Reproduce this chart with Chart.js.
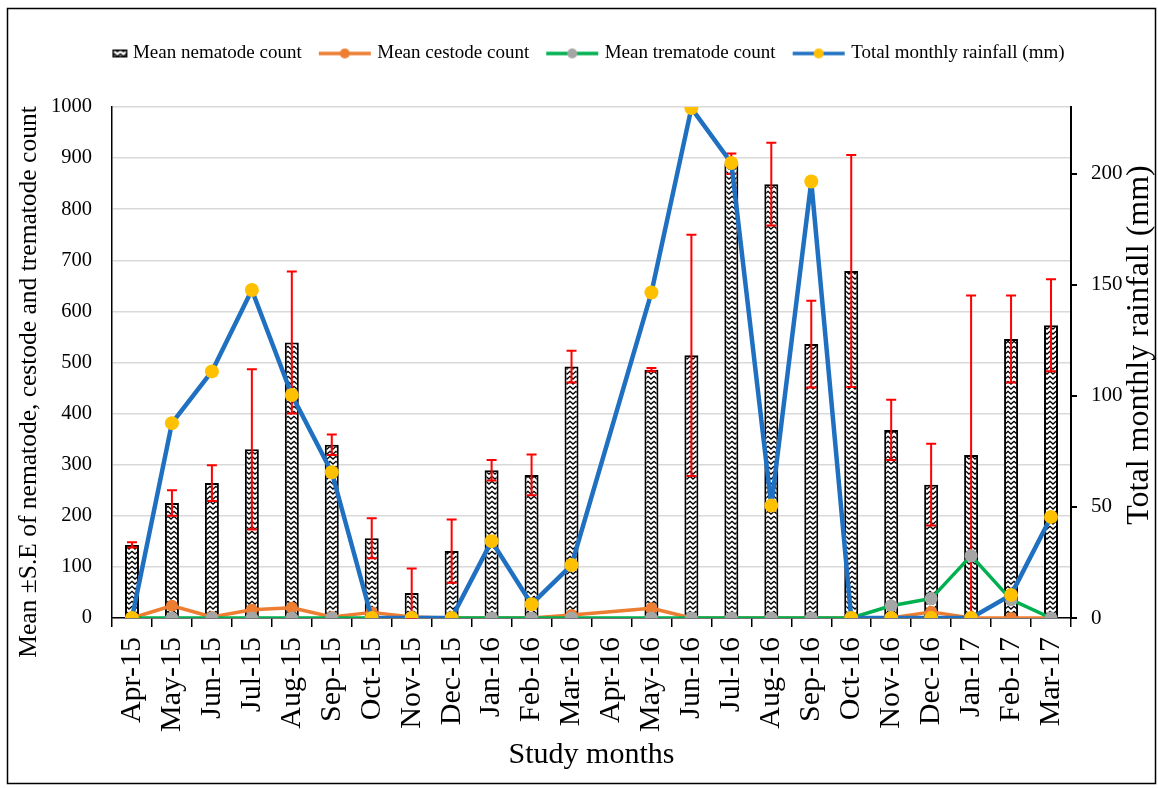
<!DOCTYPE html>
<html><head><meta charset="utf-8">
<script src="https://cdn.jsdelivr.net/npm/chart.js@4/dist/chart.umd.min.js"></script>
<style>html,body{margin:0;padding:0;background:#fff}#wrap{width:1158px;height:788px;position:relative}</style>
</head><body><div id="wrap"><canvas id="c" width="1158" height="788"></canvas></div>
<script>
const months = ['Apr-15','May-15','Jun-15','Jul-15','Aug-15','Sep-15','Oct-15','Nov-15','Dec-15','Jan-16','Feb-16','Mar-16','Apr-16','May-16','Jun-16','Jul-16','Aug-16','Sep-16','Oct-16','Nov-16','Dec-16','Jan-17','Feb-17','Mar-17'];
const nematode   = [143, 225, 264, 330, 539, 339, 156, 49, 131, 289, 280, 492, null, 486, 514, 889, 849, 536, 679, 368, 261, 319, 546, 573];
const nematodeSE = [5, 25, 35, 157, 139, 20, 39, 48, 62, 20, 40, 31, null, 3, 236, 20, 81, 85, 227, 59, 80, 312, 85, 90];
const cestode    = [0, 24, 2, 16, 20, 2, 11, 2, 0, 0, 0, 6, null, 19, 0, 0, 0, 0, 0, 0, 12, 0, 0, 0];
const trematode  = [0, 0, 0, 0, 0, 0, 0, 0, 0, 0, 0, 0, null, 0, 0, 0, 0, 0, 0, 24, 38, 122, 36, 0];
const rainfall   = [0, 87.7, 111, 147.6, 100.4, 65.6, 0, 0, 0, 34.6, 6.2, 23.8, null, 146.5, 229.5, 204.8, 50.6, 196.5, 0, 0, 0, 0, 10.4, 45.5];
const leftTitle = 'Mean \u00b1S.E of nematode, cestode and trematode count';
const rightTitle = 'Total monthly rainfall (mm)';
const xTitle = 'Study months';
const seriesNames = ['Mean nematode count','Mean cestode count','Mean trematode count','Total monthly rainfall (mm)'];

const FONT = 'Liberation Serif';
const canvas = document.getElementById('c');
const ctx = canvas.getContext('2d');

function makeTile(){
  const c = document.createElement('canvas'); c.width = 6; c.height = 5;
  const g = c.getContext('2d');
  g.fillStyle = '#fff'; g.fillRect(0,0,6,5);
  g.strokeStyle = '#000'; g.lineWidth = 1.4;
  g.beginPath(); g.moveTo(-0.5,1); g.lineTo(3,4); g.lineTo(6.5,1); g.stroke();
  return c;
}
const tile = makeTile();
const pattern = ctx.createPattern(tile, 'repeat');

function barIcon(){
  const c = document.createElement('canvas'); c.width = 56; c.height = 12;
  const g = c.getContext('2d');
  g.fillStyle = g.createPattern(tile,'repeat');
  g.fillRect(40,2,15,8);
  g.strokeStyle = '#000'; g.lineWidth = 1.5; g.strokeRect(40.75,2.75,13.5,6.5);
  return c;
}
function lineIcon(lineCol, dotCol){
  const c = document.createElement('canvas'); c.width = 56; c.height = 12;
  const g = c.getContext('2d');
  g.strokeStyle = lineCol; g.lineWidth = 3.5;
  g.beginPath(); g.moveTo(2,6); g.lineTo(54,6); g.stroke();
  g.fillStyle = dotCol; g.beginPath(); g.arc(28,6,5,0,Math.PI*2); g.fill();
  return c;
}
const icons = [barIcon(), lineIcon('#ED7D31','#ED7D31'), lineIcon('#00B050','#A5A5A5'), lineIcon('#1F70C1','#FFC000')];

function vText(g, text, x, y, size){
  g.save();
  g.translate(x, y);
  g.rotate(-Math.PI/2);
  g.font = size + 'px "' + FONT + '"'; g.fillStyle = '#000';
  g.textAlign = 'center'; g.textBaseline = 'middle';
  g.fillText(text, 0, 0);
  g.restore();
}
const bgFrame = {
  id:'bgFrame',
  beforeDraw(chart){ const g = chart.ctx; g.save(); g.fillStyle='#fff'; g.fillRect(0,0,chart.width,chart.height); g.restore(); },
  afterDraw(chart){
    const g = chart.ctx; g.save();
    g.strokeStyle = '#000'; g.lineWidth = 1.5;
    g.strokeRect(7.5, 8.5, 1148, 775);
    g.restore();
    vText(g, leftTitle, 29, 382, 25.5);
    vText(g, rightTitle, 1140, 345, 32);
  }
};
const errorBars = {
  id:'errorBars',
  afterDatasetDraw(chart, args){
    if (args.index !== 0) return;
    const y = chart.scales.y; const g = chart.ctx;
    g.save(); g.strokeStyle = '#FF0000'; g.lineWidth = 2;
    args.meta.data.forEach((bar, i) => {
      const v = nematode[i], se = nematodeSE[i];
      if (v == null || se == null) return;
      const x = bar.x;
      const t = y.getPixelForValue(v + se), b = y.getPixelForValue(Math.max(0, v - se));
      g.beginPath();
      g.moveTo(x, t); g.lineTo(x, b);
      g.moveTo(x-5, t); g.lineTo(x+5, t);
      g.moveTo(x-5, b); g.lineTo(x+5, b);
      g.stroke();
    });
    g.restore();
  }
};
const legendFit = {
  id:'legendFit',
  beforeLayout(chart){
    const lg = chart.legend;
    if (lg && !lg.__patched){
      const f = lg.fit;
      lg.fit = function(){ f.call(this); this.height = 83; };
      lg.__patched = true;
    }
  }
};

new Chart(ctx, {
  type: 'bar',
  data: {
    labels: months,
    datasets: [
      { type:'bar', label: seriesNames[0], data: nematode, backgroundColor: pattern, borderColor:'#000', borderWidth: 2,
        barPercentage: 0.35, categoryPercentage: 1, order: 4, yAxisID:'y' },
      { type:'line', label: seriesNames[1], data: cestode, borderColor:'#ED7D31', borderWidth: 3.5, pointRadius: 6,
        pointBackgroundColor:'#ED7D31', pointBorderColor:'#ED7D31', pointBorderWidth: 0, spanGaps: true, tension: 0,
        borderJoinStyle:'round', order: 3, yAxisID:'y' },
      { type:'line', label: seriesNames[2], data: trematode, borderColor:'#00B050', borderWidth: 3.5, pointRadius: 6.5,
        pointBackgroundColor:'#A5A5A5', pointBorderColor:'#A5A5A5', pointBorderWidth: 0, spanGaps: true, tension: 0,
        borderJoinStyle:'round', order: 2, yAxisID:'y' },
      { type:'line', label: seriesNames[3], data: rainfall, borderColor:'#1F70C1', borderWidth: 4.5, pointRadius: 7,
        pointBackgroundColor:'#FFC000', pointBorderColor:'#FFC000', pointBorderWidth: 0, spanGaps: true, tension: 0,
        borderJoinStyle:'round', order: 1, yAxisID:'y2' }
    ]
  },
  options: {
    responsive: false, animation: false, devicePixelRatio: 1,
    layout: { padding: { left: 10, right: 26, top: 24, bottom: 10 } },
    plugins: {
      tooltip: { enabled: false },
      legend: {
        position: 'top',
        labels: {
          usePointStyle: true, pointStyleWidth: 46, padding: 20,
          font: { family: FONT, size: 19 }, color: '#000',
          generateLabels(chart){
            const items = Chart.defaults.plugins.legend.labels.generateLabels(chart);
            items.forEach(it => { it.pointStyle = icons[it.datasetIndex]; });
            return items;
          },
          sort: (a,b) => a.datasetIndex - b.datasetIndex
        }
      }
    },
    scales: {
      x: {
        type:'category', offset: true,
        grid: { offset: true, drawOnChartArea: false, drawTicks: true, tickLength: 9, color:'#000', lineWidth: 1.5 },
        border: { color:'#000', width: 1.5 },
        ticks: { autoSkip: false, minRotation: 90, maxRotation: 90, padding: 10, color:'#000', font: { family: FONT, size: 30 } },
        title: { display: true, text: xTitle, color:'#000', font: { family: FONT, size: 30 }, padding: { top: 0, bottom: 5 } },
        afterFit(s){ s.height = 160; }
      },
      y: {
        position:'left', min: 0, max: 1000,
        ticks: { stepSize: 100, padding: 20, color:'#000', font: { family: FONT, size: 20.5 }, callback: v => String(v) },
        grid: { color:'#D9D9D9', lineWidth: 1.5, drawTicks: false },
        border: { color:'#000', width: 1.5 },
        afterFit(s){ s.width = 102; }
      },
      y2: {
        position:'right', min: 0, max: 230,
        ticks: { stepSize: 50, includeBounds: false, padding: 14, color:'#000', font: { family: FONT, size: 21 }, callback: v => String(v) },
        grid: { drawOnChartArea: false, drawTicks: true, tickLength: 6, color:'#000', lineWidth: 2 },
        border: { color:'#000', width: 2 },
        afterFit(s){ s.width = 61; }
      }
    }
  },
  plugins: [bgFrame, errorBars, legendFit]
});
</script>
</body></html>
